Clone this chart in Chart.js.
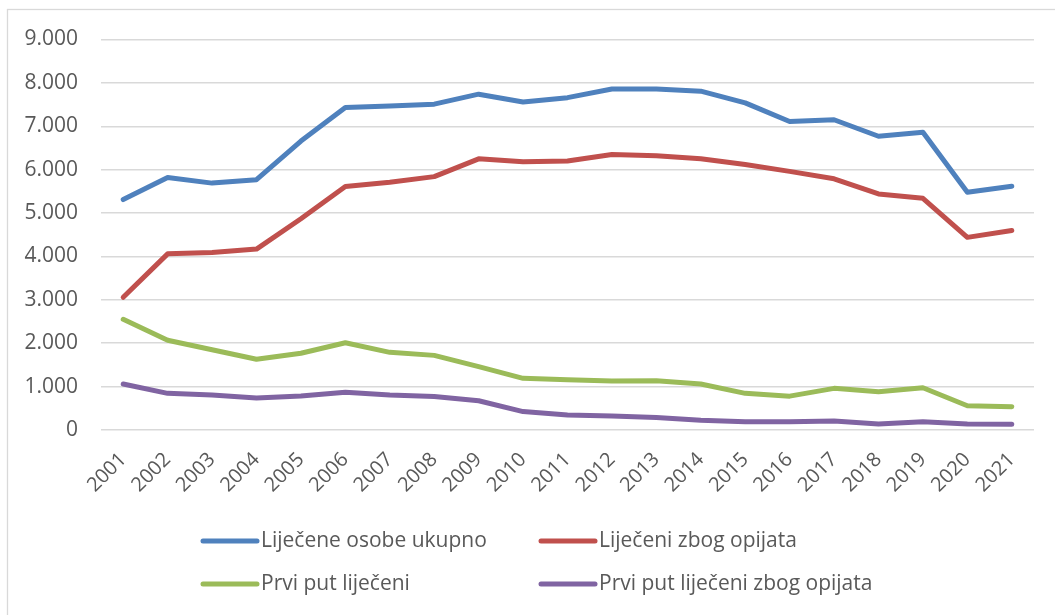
<!DOCTYPE html>
<html>
<head>
<meta charset="utf-8">
<script src="https://cdn.jsdelivr.net/npm/chart.js@4/dist/chart.umd.min.js"></script>
<style>
  html, body { margin: 0; padding: 0; background: #ffffff; }
  #wrap { width: 1055px; height: 615px; position: relative; }
</style>
</head>
<body>
<div id="wrap"><canvas id="c" width="1055" height="615"></canvas></div>
<script>
const years = ['2001','2002','2003','2004','2005','2006','2007','2008','2009','2010','2011','2012','2013','2014','2015','2016','2017','2018','2019','2020','2021'];
const ukupno = [5310, 5820, 5690, 5770, 6660, 7430, 7470, 7510, 7740, 7560, 7660, 7860, 7860, 7810, 7540, 7110, 7150, 6770, 6860, 5480, 5620];
const opijati = [3060, 4060, 4090, 4170, 4870, 5610, 5710, 5840, 6250, 6180, 6200, 6350, 6320, 6250, 6120, 5960, 5790, 5440, 5340, 4440, 4600];
const prviPut = [2550, 2070, 1850, 1630, 1770, 2010, 1790, 1720, 1460, 1190, 1160, 1130, 1135, 1060, 845, 780, 960, 880, 975, 560, 535];
const prviPutOpijati = [1060, 845, 805, 740, 785, 870, 805, 770, 675, 425, 345, 320, 290, 225, 190, 190, 210, 140, 190, 140, 130];
const seriesNames = ['Liječene osobe ukupno', 'Liječeni zbog opijata', 'Prvi put liječeni', 'Prvi put liječeni zbog opijata'];
const seriesColors = ['#4F81BD', '#C0504D', '#9BBB59', '#8064A2'];
const yTicks = [0, 1000, 2000, 3000, 4000, 5000, 6000, 7000, 8000, 9000];

const TEXT = '#595959';
const FONT = '"Open Sans", "Liberation Sans", sans-serif';

function fmt(v) {
  if (v === 0) return '0';
  const s = String(Math.round(v));
  return s.replace(/\B(?=(\d{3})+(?!\d))/g, '.');
}

const frame = {
  id: 'frame',
  beforeDraw(chart) {
    const ctx = chart.ctx;
    ctx.save();
    ctx.strokeStyle = '#D9D9D9';
    ctx.lineWidth = 1.3;
    ctx.strokeRect(7.5, 9.5, 1100, 700);
    ctx.restore();
  }
};

const legendPlugin = {
  id: 'customLegend',
  afterDraw(chart) {
    const ctx = chart.ctx;
    const pos = [
      {x: 203, y: 541},
      {x: 541, y: 541},
      {x: 203, y: 584},
      {x: 541, y: 584}
    ];
    ctx.save();
    chart.data.datasets.forEach((ds, i) => {
      const p = pos[i];
      ctx.strokeStyle = ds.borderColor;
      ctx.lineWidth = 5;
      ctx.lineCap = 'round';
      ctx.beginPath();
      ctx.moveTo(p.x, p.y);
      ctx.lineTo(p.x + 54, p.y);
      ctx.stroke();
      ctx.fillStyle = TEXT;
      ctx.font = '21px ' + FONT;
      ctx.textBaseline = 'middle';
      ctx.textAlign = 'left';
      ctx.fillText(ds.label, p.x + 58, p.y);
    });
    ctx.restore();
  }
};

const seriesData = [ukupno, opijati, prviPut, prviPutOpijati];

new Chart(document.getElementById('c'), {
  type: 'line',
  data: {
    labels: years,
    datasets: seriesData.map((d, i) => ({
      label: seriesNames[i],
      data: d,
      borderColor: seriesColors[i],
      backgroundColor: seriesColors[i],
      borderWidth: 5,
      borderCapStyle: 'round',
      borderJoinStyle: 'round',
      pointRadius: 0,
      pointHoverRadius: 0,
      tension: 0,
      fill: false
    }))
  },
  options: {
    responsive: false,
    animation: false,
    events: [],
    layout: { padding: { left: 0, top: 39.5, right: 21, bottom: 115 } },
    plugins: {
      legend: { display: false },
      tooltip: { enabled: false }
    },
    scales: {
      x: {
        type: 'category',
        offset: true,
        grid: { display: false, drawTicks: false },
        border: { display: false },
        ticks: {
          color: TEXT,
          font: { family: FONT, size: 20 },
          minRotation: 45,
          maxRotation: 45,
          padding: 18,
          autoSkip: false
        },
        afterFit(scale) { scale.height = 70; }
      },
      y: {
        min: 0,
        max: 9000,
        grid: { color: '#D9D9D9', lineWidth: 1.5, drawTicks: false },
        border: { display: false },
        afterBuildTicks(scale) { scale.ticks = yTicks.map(v => ({ value: v })); },
        ticks: {
          color: TEXT,
          font: { family: FONT, size: 21 },
          padding: 23,
          callback: (v) => fmt(v)
        },
        afterFit(scale) { scale.width = 101; }
      }
    }
  },
  plugins: [frame, legendPlugin]
});
</script>
</body>
</html>
